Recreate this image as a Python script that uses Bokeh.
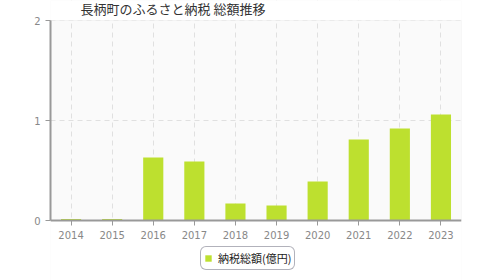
from bokeh.plotting import figure
from bokeh.models import Legend, LegendItem, ColumnDataSource, FixedTicker, BoxAnnotation, Label
from bokeh.embed import file_html
from bokeh.resources import INLINE

years = ["2014", "2015", "2016", "2017", "2018", "2019", "2020", "2021", "2022", "2023"]
values = [0.015, 0.015, 0.63, 0.59, 0.17, 0.15, 0.39, 0.81, 0.92, 1.06]
y_ticks = [0, 1, 2]
y_min, y_max = 0, 2
title_text = "長柄町のふるさと納税  総額推移"
series_name = "納税総額(億円)"

src = ColumnDataSource(dict(x=years, top=values))

p = figure(width=480, height=280, x_range=years, y_range=(y_min - 0.6, y_max + 0.2),
           title=None, output_backend="svg", toolbar_location=None,
           min_border_left=50, min_border_right=19, min_border_top=0, min_border_bottom=0)
p.x_range.range_padding = 0
p.background_fill_color = "#fafafa"
p.border_fill_color = "white"
p.outline_line_color = None

p.xgrid.grid_line_color = "#e0e0e0"
p.xgrid.grid_line_dash = "5 4"
p.ygrid.grid_line_color = "#e0e0e0"
p.ygrid.grid_line_dash = "5 4"

# white outside the plotting band, gray border at top/right of the band
p.add_layout(BoxAnnotation(top=y_min, fill_color="white", fill_alpha=1, line_color=None, level="underlay"))
p.add_layout(BoxAnnotation(bottom=y_max, fill_color="white", fill_alpha=1, line_color=None, level="underlay"))
p.add_layout(BoxAnnotation(bottom=y_min, top=y_max, fill_color=None, fill_alpha=0,
                           line_color="#dddddd", line_width=1, level="underlay"))

r = p.vbar(x="x", top="top", width=0.49, source=src, fill_color="#bde02f", line_color=None)

p.yaxis.ticker = FixedTicker(ticks=y_ticks)
p.yaxis.bounds = (y_min, y_max)
p.yaxis.minor_tick_line_color = None
p.xaxis.fixed_location = y_min
for ax in (p.xaxis, p.yaxis):
    ax.axis_line_color = "#999999"
    ax.axis_line_width = 2
    ax.major_tick_line_color = "#999999"
    ax.major_tick_in = 0
    ax.major_tick_out = 5
    ax.major_label_text_color = "#888888"
    ax.major_label_text_font = "DejaVu Sans"
    ax.major_label_text_font_size = "10px"
p.yaxis.major_label_standoff = 5
p.xaxis.major_label_standoff = 5

p.add_layout(Label(x=0, y=y_max, x_offset=30, y_offset=3, text=title_text,
                   text_font="Noto Sans CJK JP", text_font_size="13px",
                   text_color="#333333", text_align="left", text_baseline="bottom"))

legend = Legend(items=[LegendItem(label=series_name, renderers=[r])],
                orientation="horizontal", location=(150, 10))
legend.label_text_font = "Noto Sans CJK JP"
legend.label_text_font_size = "11px"
legend.label_text_color = "#222222"
legend.label_height = 12
legend.glyph_width = 8
legend.glyph_height = 8
legend.border_line_color = "#666677"
legend.border_line_width = 1
legend.padding = 3
legend.margin = 0
legend.label_standoff = 6
legend.background_fill_color = "white"
legend.background_fill_alpha = 1
if "border_radius" in Legend.properties():
    legend.border_radius = 6
p.add_layout(legend, "center")

open("out.html", "w").write(file_html(p, INLINE))
